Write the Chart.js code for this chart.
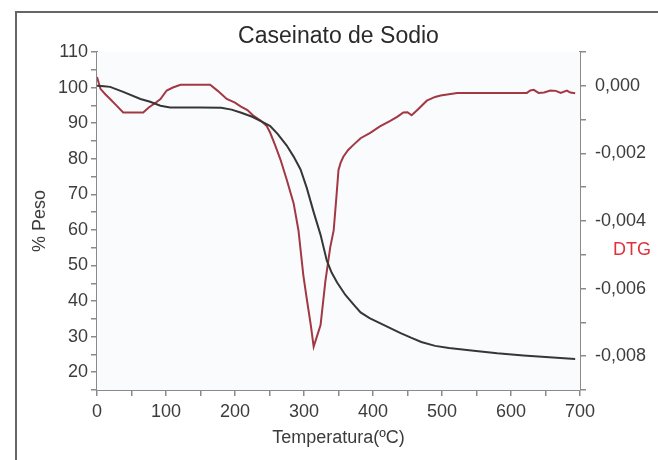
<!DOCTYPE html>
<html>
<head>
<meta charset="utf-8">
<script src="https://cdn.jsdelivr.net/npm/chart.js@4.4.1/dist/chart.umd.min.js"></script>
<style>
    html, body { margin: 0; padding: 0; background: #fff; }
    #wrap { position: relative; width: 658px; height: 460px; overflow: hidden; }
    #marco { position: absolute; left: 15px; top: 11px; width: 700px; height: 500px;
             border-left: 2px solid #666; border-top: 2px solid #666; }
    canvas { position: absolute; left: 0; top: 0; }
</style>
</head>
<body>
<div id="wrap">
    <div id="marco"></div>
    <canvas id="tgaChart" width="658" height="460"></canvas>
</div>
<script>
// curva de peso (TG)
var pesoTemp = [0, 10, 19, 38, 63, 77, 92, 106, 150, 180, 195, 208, 225, 241, 251, 262, 275, 285, 295, 304,
    314, 324, 333, 340, 348, 360, 372, 382, 395, 410, 425, 440, 455, 470, 490, 510, 546, 580, 618, 650, 693];
var pesoValores = [100.5, 100.4, 100.2, 98.8, 96.8, 96.0, 94.9, 94.4, 94.4, 94.3, 93.8, 93.0, 91.8, 90.2, 89.2, 86.9, 83.7, 80.6, 77.0, 71.8,
    65.0, 58.6, 51.4, 48.0, 45.2, 41.7, 39.0, 36.8, 35.2, 33.8, 32.4, 31.0, 29.7, 28.5, 27.4, 26.8, 26.0, 25.3, 24.7, 24.3, 23.7];

// curva derivada (DTG)
var dtgTemp = [0, 5, 12, 19, 28, 38, 67, 75, 85, 92, 101, 110, 121, 164, 175, 188, 200, 208, 218, 227, 237, 246,
    251, 258, 266, 275, 285, 292, 299, 304, 310, 314, 319, 324, 331, 338, 343, 347, 350, 353, 357, 364, 372, 382,
    396, 410, 425, 435, 444, 450, 456, 465, 478, 490, 498, 522, 623, 628, 633, 640, 648, 657, 665, 672, 681, 686, 693];
var dtgValores = [0.00026, -0.00009, -0.00025, -0.00039, -0.00058, -0.00079, -0.00079, -0.00064, -0.00050, -0.00039,
    -0.00014, -0.00005, 0.00003, 0.00003, -0.00015, -0.00039, -0.00050, -0.00061, -0.00072, -0.00089, -0.00103, -0.00119,
    -0.00139, -0.00175, -0.00219, -0.00278, -0.00348, -0.00428, -0.00560, -0.00630, -0.00710, -0.00772, -0.00740, -0.00708,
    -0.00578, -0.00478, -0.00428, -0.00328, -0.00249, -0.00228, -0.00210, -0.00190, -0.00174, -0.00155,
    -0.00139, -0.00120, -0.00104, -0.00092, -0.00079, -0.00078, -0.00087, -0.00070, -0.00044, -0.00033, -0.00029,
    -0.00021, -0.00021, -0.00014, -0.00012, -0.00021, -0.00020, -0.00014, -0.00015, -0.00021, -0.00014, -0.00020, -0.00022];

var ticksX = [0, 100, 200, 300, 400, 500, 600, 700];
var ticksPeso = [20, 30, 40, 50, 60, 70, 80, 90, 100, 110];
var ticksDtg = [0, -0.002, -0.004, -0.006, -0.008];

function puntos(xs, ys) {
    var out = [];
    for (var i = 0; i < xs.length; i++) {
        out.push({ x: xs[i], y: ys[i] });
    }
    return out;
}

var gris = '#8a8a8a';
var texto = '#3c3c3c';

var fondoPlugin = {
    id: 'fondo',
    beforeDatasetsDraw: function(chart) {
        var a = chart.chartArea;
        var ctx = chart.ctx;
        ctx.save();
        ctx.fillStyle = '#fafbfc';
        ctx.fillRect(a.left, a.top, a.right - a.left, a.bottom - a.top);
        ctx.restore();
    },
    afterDraw: function(chart) {
        var ctx = chart.ctx;
        ctx.save();
        ctx.font = '18px "Liberation Sans", Arial, sans-serif';
        ctx.fillStyle = '#e0323c';
        ctx.textAlign = 'left';
        ctx.textBaseline = 'middle';
        ctx.fillText('DTG', 613, 250);
        ctx.restore();
    }
};

Chart.defaults.font.family = '"Liberation Sans", Arial, sans-serif';
Chart.defaults.font.size = 18;
Chart.defaults.color = texto;

var ctx = document.getElementById('tgaChart').getContext('2d');
new Chart(ctx, {
    type: 'line',
    data: {
        datasets: [
            {
                label: '% Peso',
                data: puntos(pesoTemp, pesoValores),
                yAxisID: 'yPeso',
                borderColor: '#363636',
                borderWidth: 2,
                pointRadius: 0,
                tension: 0
            },
            {
                label: 'DTG',
                data: puntos(dtgTemp, dtgValores),
                yAxisID: 'yDtg',
                borderColor: '#a23844',
                borderWidth: 2,
                pointRadius: 0,
                tension: 0
            }
        ]
    },
    options: {
        responsive: false,
        animation: false,
        layout: { padding: 0 },
        plugins: {
            legend: { display: false },
            tooltip: { enabled: false },
            title: {
                display: true,
                text: 'Caseinato de Sodio',
                fullSize: false,
                color: '#2a2a2a',
                font: { size: 23, weight: 'normal' },
                padding: { top: 23, bottom: 1.4 }
            }
        },
        scales: {
            x: {
                type: 'linear',
                min: 0,
                max: 700,
                afterFit: function(s) { s.height = 70; },
                afterBuildTicks: function(s) {
                    var t = [];
                    for (var v = 0; v <= 700; v += 50) t.push({ value: v });
                    s.ticks = t;
                },
                ticks: {
                    padding: 5,
                    autoSkip: false,
                    maxRotation: 0,
                    callback: function(v) { return ticksX.indexOf(v) >= 0 ? String(v) : ''; }
                },
                grid: { drawOnChartArea: false, tickLength: 6, color: gris, lineWidth: 1.5 },
                border: { color: gris, width: 2 },
                title: { display: true, text: 'Temperatura(ºC)', padding: { bottom: 11 } }
            },
            yPeso: {
                type: 'linear',
                position: 'left',
                min: 15,
                max: 110,
                afterFit: function(s) { s.width = 97; },
                afterBuildTicks: function(s) {
                    var t = [];
                    for (var v = 15; v <= 110; v += 5) t.push({ value: v });
                    s.ticks = t;
                },
                ticks: {
                    padding: 3,
                    autoSkip: false,
                    callback: function(v) { return ticksPeso.indexOf(v) >= 0 ? String(v) : ''; }
                },
                grid: { drawOnChartArea: false, tickLength: 6, color: gris, lineWidth: 1.5 },
                border: { color: gris, width: 2 },
                title: { display: true, text: '% Peso', padding: { top: 29 } }
            },
            yDtg: {
                type: 'linear',
                position: 'right',
                min: -0.009,
                max: 0.001,
                afterFit: function(s) { s.width = 78; },
                afterBuildTicks: function(s) {
                    var t = [];
                    for (var k = -9; k <= 1; k++) t.push({ value: k / 1000 });
                    s.ticks = t;
                },
                ticks: {
                    padding: 9,
                    autoSkip: false,
                    callback: function(v) {
                        for (var i = 0; i < ticksDtg.length; i++) {
                            if (Math.abs(ticksDtg[i] - v) < 1e-9) return ticksDtg[i].toFixed(3).replace('.', ',');
                        }
                        return '';
                    }
                },
                grid: { drawOnChartArea: false, tickLength: 6, color: gris, lineWidth: 1.5 },
                border: { color: gris, width: 2 }
            }
        }
    },
    plugins: [fondoPlugin]
});
</script>
</body>
</html>
